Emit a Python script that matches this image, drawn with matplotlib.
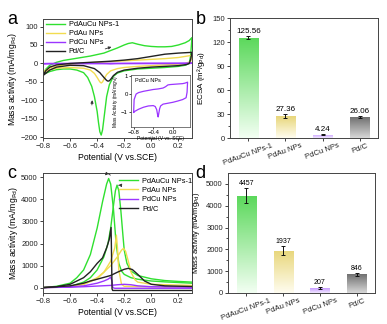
import numpy as np
import matplotlib
matplotlib.use("Agg")
import matplotlib.pyplot as plt
from matplotlib.colors import LinearSegmentedColormap

plt.rcParams['font.family'] = ['Liberation Sans', 'DejaVu Sans']
plt.rcParams['axes.linewidth'] = 0.7
plt.rcParams['axes.edgecolor'] = '#444444'

# ---------------- series / categories ----------------
samples = ['PdAuCu NPs-1', 'PdAu NPs', 'PdCu NPs', 'Pd/C']
line_colors = ['#2fe02f', '#f2dc50', '#9b35ff', '#222222']

# (a) CV in H2SO4: anodic (forward) and cathodic (backward) sweeps
E_fwd_green = [-0.80, -0.78, -0.75, -0.70, -0.65, -0.60, -0.55, -0.50, -0.45, -0.40, -0.35, -0.30,
               -0.25, -0.20, -0.17, -0.14, -0.10, -0.05, 0.00, 0.05, 0.10, 0.15, 0.20, 0.25, 0.28, 0.30]
I_fwd_green = [-30, -16, -5, 3, 8, 11, 14, 17, 20, 24, 28, 35, 42, 50, 54, 56, 52, 48, 46, 45, 45, 46,
               50, 56, 62, 70]
E_bwd_green = [0.30, 0.29, 0.28, 0.25, 0.20, 0.10, 0.00, -0.10, -0.20, -0.25, -0.28, -0.31, -0.33, -0.34,
               -0.35, -0.36, -0.37, -0.38, -0.39, -0.40, -0.42, -0.44, -0.47, -0.50, -0.55, -0.60,
               -0.65, -0.70, -0.75, -0.80]
I_bwd_green = [70, 20, 0, -5, -8, -11, -13, -15, -20, -26, -35, -58, -90, -120, -150, -180, -194, -185,
               -160, -130, -90, -62, -38, -25, -18, -15, -15, -17, -22, -30]

E_fwd_yellow = [-0.80, -0.78, -0.75, -0.70, -0.60, -0.50, -0.40, -0.30, -0.20, -0.10, 0.00, 0.10, 0.20, 0.25, 0.30]
I_fwd_yellow = [-25, -18, -12, -7, -2, 1, 3, 5, 7, 9, 11, 13, 16, 19, 22]
E_bwd_yellow = [0.30, 0.29, 0.25, 0.20, 0.10, 0.00, -0.10, -0.20, -0.25, -0.30, -0.33, -0.35, -0.36,
                -0.37, -0.38, -0.40, -0.42, -0.45, -0.50, -0.60, -0.70, -0.75, -0.80]
I_bwd_yellow = [22, 5, 0, -2, -4, -6, -8, -11, -14, -20, -30, -43, -50, -53, -50, -38, -27, -18, -13,
                -11, -13, -17, -25]

E_fwd_black = [-0.80, -0.78, -0.75, -0.70, -0.60, -0.50, -0.40, -0.30, -0.20, -0.10, 0.00, 0.10, 0.20, 0.25, 0.30]
I_fwd_black = [-33, -20, -10, -4, 0, 2, 4, 6, 9, 13, 19, 25, 28, 29, 30]
E_bwd_black = [0.30, 0.29, 0.28, 0.26, 0.20, 0.10, 0.00, -0.10, -0.20, -0.25, -0.28, -0.30, -0.31,
               -0.32, -0.33, -0.35, -0.38, -0.42, -0.50, -0.60, -0.70, -0.75, -0.80]
I_bwd_black = [30, 10, 0, -3, -6, -8, -10, -13, -18, -24, -33, -43, -47, -48, -46, -38, -25, -14, -6,
               -5, -10, -18, -33]

E_fwd_purple = [-0.80, -0.79, -0.75, -0.70, -0.60, -0.50, -0.40, -0.30, -0.20, -0.15, -0.10, -0.05,
                0.00, 0.10, 0.20, 0.25, 0.30]
I_fwd_purple = [-1.0, -0.3, 0.0, 0.08, 0.15, 0.20, 0.25, 0.28, 0.33, 0.40, 0.50, 0.52, 0.53, 0.55,
                0.57, 0.60, 0.65]
E_bwd_purple = [0.30, 0.29, 0.27, 0.20, 0.10, 0.00, -0.10, -0.20, -0.25, -0.27, -0.29, -0.30, -0.31,
                -0.33, -0.36, -0.40, -0.50, -0.60, -0.70, -0.78, -0.80]
I_bwd_purple = [0.65, 0.10, -0.20, -0.30, -0.38, -0.45, -0.50, -0.55, -0.65, -0.80, -1.10, -1.25,
                -1.15, -0.85, -0.68, -0.63, -0.65, -0.72, -0.83, -0.95, -1.00]

# (c) ethanol oxidation CVs: two sweeps per catalyst
E_c1_green = [-0.80, -0.70, -0.60, -0.55, -0.50, -0.45, -0.40, -0.36, -0.33, -0.315, -0.30, -0.28,
              -0.26, -0.24, -0.22, -0.20, -0.15, -0.10, 0.00, 0.10, 0.20, 0.30]
I_c1_green = [0, 60, 200, 450, 800, 1500, 2700, 3900, 4700, 4950, 4700, 3600, 2000, 1100, 750, 600,
              450, 380, 300, 260, 230, 200]
E_c2_green = [-0.80, -0.60, -0.50, -0.45, -0.40, -0.35, -0.32, -0.30, -0.28, -0.265, -0.253, -0.24,
              -0.225, -0.21, -0.20, -0.18, -0.15, -0.10, 0.00, 0.10, 0.20, 0.30]
I_c2_green = [0, 50, 250, 450, 800, 1400, 2000, 2700, 3700, 4400, 4650, 4400, 3500, 2400, 1700, 1100,
              750, 550, 400, 320, 280, 250]

E_c1_yellow = [-0.80, -0.60, -0.50, -0.40, -0.35, -0.30, -0.25, -0.22, -0.205, -0.19, -0.17, -0.15,
               -0.12, -0.10, 0.00, 0.30]
I_c1_yellow = [0, 30, 150, 450, 700, 1000, 1400, 1700, 1780, 1650, 1200, 700, 350, 250, 150, 100]
E_c2_yellow = [0.30, 0.00, -0.20, -0.22, -0.24, -0.25, -0.258, -0.27, -0.30, -0.35, -0.40, -0.50,
               -0.60, -0.80]
I_c2_yellow = [30, 40, 60, 150, 800, 1800, 2380, 1800, 1200, 700, 400, 150, 50, 0]

E_c1_purple = [-0.80, -0.60, -0.50, -0.40, -0.30, -0.25, -0.20, -0.15, -0.10, 0.00, 0.30]
I_c1_purple = [0, 20, 40, 70, 100, 130, 150, 130, 80, 40, 20]
E_c2_purple = [0.30, 0.00, -0.27, -0.285, -0.29, -0.30, -0.32, -0.35, -0.40, -0.50, -0.60, -0.80]
I_c2_purple = [-30, -30, -30, 0, 300, 470, 380, 300, 200, 80, 30, 0]

E_c1_black = [-0.80, -0.60, -0.50, -0.45, -0.40, -0.30, -0.25, -0.20, -0.17, -0.14, -0.10, -0.05,
              0.00, 0.10, 0.30]
I_c1_black = [0, 80, 200, 300, 380, 550, 700, 830, 875, 820, 600, 300, 150, 80, 50]
E_c2_black = [0.30, 0.00, -0.20, -0.285, -0.29, -0.295, -0.297, -0.31, -0.33, -0.36, -0.40, -0.45,
              -0.50, -0.60, -0.70, -0.80]
I_c2_black = [-130, -130, -130, -130, -60, 2000, 2730, 2200, 1800, 1350, 1100, 720, 450, 150, 40, 0]

# (b) ECSA and (d) mass activity
ecsa = [125.56, 27.36, 4.24, 26.06]
ecsa_err = [1.5, 2.5, 0.6, 1.0]
ecsa_labels = ['125.56', '27.36', '4.24', '26.06']
mass_act = [4457, 1937, 207, 846]
mass_err = [350, 200, 50, 80]
mass_labels = ['4457', '1937', '207', '846']

bar_top = ['#5ad85a', '#e8d67a', '#c79cff', '#707070']
bar_bottom = ['#f3fff3', '#fffdf0', '#f2e8ff', '#d8d8d8']

# ---------------- figure ----------------
fig = plt.figure(figsize=(3.87, 3.24), dpi=100)
ax_a = fig.add_axes([0.111, 0.574, 0.385, 0.367])
ax_b = fig.add_axes([0.594, 0.574, 0.383, 0.370])
ax_c = fig.add_axes([0.111, 0.096, 0.385, 0.370])
ax_d = fig.add_axes([0.589, 0.096, 0.380, 0.370])

TICK_FS = 5.5
LABEL_FS = 6.2


def style(ax):
    ax.tick_params(axis='both', which='major', direction='out', length=2.2, width=0.6,
                   labelsize=TICK_FS, pad=1.5, colors='#222222')
    ax.tick_params(axis='both', which='minor', direction='out', length=1.2, width=0.5)


# ---- (a) ----
ax = ax_a
ax.plot(E_fwd_green + E_bwd_green, I_fwd_green + I_bwd_green, color=line_colors[0], lw=1.0,
        label=samples[0])
ax.plot(E_fwd_yellow + E_bwd_yellow, I_fwd_yellow + I_bwd_yellow, color=line_colors[1], lw=1.0,
        label=samples[1])
ax.plot(E_fwd_purple + E_bwd_purple, I_fwd_purple + I_bwd_purple, color=line_colors[2], lw=1.0,
        label=samples[2])
ax.plot(E_fwd_black + E_bwd_black, I_fwd_black + I_bwd_black, color=line_colors[3], lw=1.0,
        label=samples[3])
ax.set_xlim(-0.8, 0.3)
ax.set_ylim(-202, 120)
ax.set_xticks([-0.8, -0.6, -0.4, -0.2, 0.0, 0.2])
ax.set_yticks([-200, -150, -100, -50, 0, 50, 100])
ax.set_xlabel('Potential (V vs.SCE)', fontsize=LABEL_FS, labelpad=2)
ax.set_ylabel('Mass activity (mA/mg$_{\\mathrm{Pd}}$)', fontsize=LABEL_FS, labelpad=1)
style(ax)
ax.legend(loc='upper left', bbox_to_anchor=(-0.01, 1.02), frameon=False, fontsize=5.3,
          handlelength=2.6, handletextpad=0.5, labelspacing=0.25, borderaxespad=0.2)
ax.annotate('', xy=(-0.275, 47), xytext=(-0.36, 37),
            arrowprops=dict(arrowstyle='-|>', color='#333333', lw=0.6, mutation_scale=4))
ax.annotate('', xy=(-0.435, -92), xytext=(-0.44, -120),
            arrowprops=dict(arrowstyle='-|>', color='#333333', lw=0.6, mutation_scale=4))

# inset
ins = fig.add_axes([0.339, 0.608, 0.152, 0.161])
ins.plot(E_fwd_purple + E_bwd_purple, I_fwd_purple + I_bwd_purple, color=line_colors[2], lw=0.9)
ins.set_xlim(-0.85, 0.35)
ins.set_ylim(-1.8, 1.05)
ins.set_xticks([-0.8, -0.4, 0.0])
ins.set_yticks([-1, 0, 1])
ins.tick_params(labelsize=4.3, length=1.5, width=0.5, pad=1)
ins.set_xlabel('Potential (V vs. SCE)', fontsize=3.6, labelpad=0.5)
ins.set_ylabel('Mass Activity (mA/mg$_{\\mathrm{Pd}}$)', fontsize=3.4, labelpad=0.5)
ins.text(0.06, 0.93, 'PdCu NPs', transform=ins.transAxes, fontsize=4.0, va='top')
for s in ins.spines.values():
    s.set_linewidth(0.5)


# ---- bar panels with vertical gradient fill ----
def gradient_bars(ax, values, errs, labels, ylim, label_fs):
    x = np.arange(len(values))
    bars = ax.bar(x, values, width=0.52, facecolor='none', edgecolor='none', zorder=2)
    for i, b in enumerate(bars):
        cmap = LinearSegmentedColormap.from_list('g%d' % i, [bar_bottom[i], bar_top[i]])
        grad = np.linspace(0, 1, 256).reshape(-1, 1)
        im = ax.imshow(grad, cmap=cmap, origin='lower', aspect='auto',
                       extent=(b.get_x(), b.get_x() + b.get_width(), 0, b.get_height()), zorder=1)
        im.set_clip_path(b)
    ax.errorbar(x, values, yerr=errs, fmt='none', ecolor='#111111', elinewidth=0.7, capsize=1.6,
                capthick=0.7, zorder=3)
    for xi, v, e, t in zip(x, values, errs, labels):
        ax.text(xi, v + e + ylim[1] * 0.01, t, ha='center', va='bottom', fontsize=label_fs, zorder=4)
    ax.set_xlim(-0.5, len(values) - 0.5)
    ax.set_ylim(*ylim)
    ax.set_xticks(x)
    ax.set_xticklabels(samples, rotation=20, ha='center', fontsize=TICK_FS)
    style(ax)
    ax.tick_params(axis='x', pad=1)


gradient_bars(ax_b, ecsa, ecsa_err, ecsa_labels, (0, 150), 5.8)
ax_b.set_yticks([0, 30, 60, 90, 120, 150])
ax_b.set_yticks([15, 45, 75, 105, 135], minor=True)
ax_b.set_ylabel('ECSA (m\u00b2/g$_{\\mathrm{Pd}}$)', fontsize=LABEL_FS - 0.4, labelpad=4)

gradient_bars(ax_d, mass_act, mass_err, mass_labels, (0, 5500), 5.0)
ax_d.set_yticks([0, 1000, 2000, 3000, 4000, 5000])
ax_d.set_yticks([500, 1500, 2500, 3500, 4500], minor=True)
ax_d.set_ylabel('Mass activity (mA/mg$_{\\mathrm{Pd}}$)', fontsize=LABEL_FS - 0.8, labelpad=3)

# ---- (c) ----
ax = ax_c
ax.plot(E_c1_green, I_c1_green, color=line_colors[0], lw=1.0, label=samples[0])
ax.plot(E_c2_green, I_c2_green, color=line_colors[0], lw=1.0)
ax.plot(E_c1_yellow, I_c1_yellow, color=line_colors[1], lw=1.0, label=samples[1])
ax.plot(E_c2_yellow, I_c2_yellow, color=line_colors[1], lw=1.0)
ax.plot(E_c1_purple, I_c1_purple, color=line_colors[2], lw=1.0, label=samples[2])
ax.plot(E_c2_purple, I_c2_purple, color=line_colors[2], lw=1.0)
ax.plot(E_c1_black, I_c1_black, color=line_colors[3], lw=1.0, label=samples[3])
ax.plot(E_c2_black, I_c2_black, color=line_colors[3], lw=1.0)
ax.set_xlim(-0.8, 0.3)
ax.set_ylim(-240, 5200)
ax.set_xticks([-0.8, -0.6, -0.4, -0.2, 0.0, 0.2])
ax.set_yticks([0, 1000, 2000, 3000, 4000, 5000])
ax.set_xlabel('Potential (V vs.SCE)', fontsize=LABEL_FS, labelpad=2)
ax.set_ylabel('Mass activity (mA/mg$_{\\mathrm{Pd}}$)', fontsize=LABEL_FS, labelpad=1)
style(ax)
ax.legend(loc='upper right', bbox_to_anchor=(1.03, 1.0), frameon=False, fontsize=5.3,
          handlelength=2.6, handletextpad=0.5, labelspacing=0.3, borderaxespad=0.2)
ax.annotate('', xy=(-0.352, 4980), xytext=(-0.29, 5000),
            arrowprops=dict(arrowstyle='-|>', color='#333333', lw=0.6, mutation_scale=4,
                            connectionstyle='arc3,rad=0.9'))
ax.annotate('', xy=(-0.215, 4420), xytext=(-0.262, 4620),
            arrowprops=dict(arrowstyle='-|>', color='#333333', lw=0.6, mutation_scale=4,
                            connectionstyle='arc3,rad=-0.7'))

# panel letters
fig.text(0.018, 0.965, 'a', fontsize=13, va='top')
fig.text(0.505, 0.965, 'b', fontsize=13, va='top')
fig.text(0.018, 0.49, 'c', fontsize=13, va='top')
fig.text(0.505, 0.49, 'd', fontsize=13, va='top')

fig.savefig('out.png', dpi=100)
